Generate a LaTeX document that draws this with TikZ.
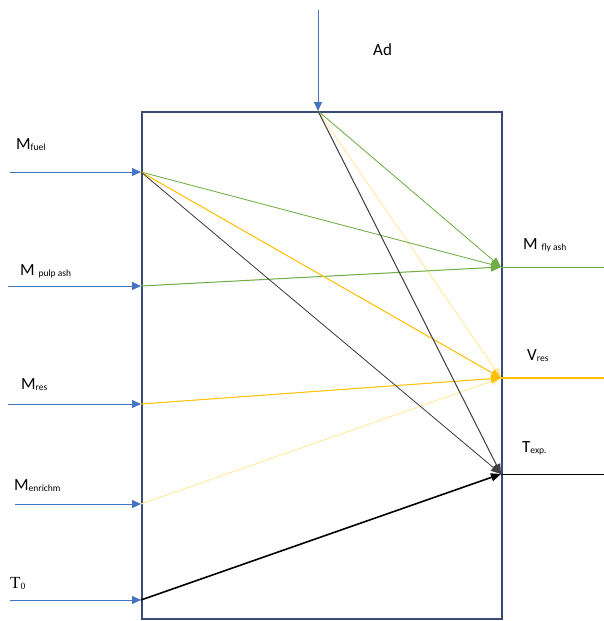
\documentclass[tikz,border=0pt]{standalone}
\usepackage{fontspec}
\setmainfont{Carlito}
\newfontfamily\serifT{Liberation Serif}
\usetikzlibrary{arrows.meta}
\definecolor{inblue}{HTML}{4472C4}
\definecolor{flgreen}{HTML}{70AD47}
\definecolor{flgold}{HTML}{FFC000}
\definecolor{flpale}{HTML}{FFE699}
\definecolor{boxblue}{HTML}{3A4C74}
\definecolor{dkgray}{HTML}{404040}
\newcommand\sbx[1]{\raisebox{-1.5pt}{\fontsize{9.5}{9.5}\selectfont #1}}
\tikzset{
  inarrow/.style={draw=inblue, line width=0.8pt, -{Triangle[length=9pt,width=8pt]}},
  flow/.style={line width=0.8pt, -{Triangle[length=10pt,width=8pt]}},
  outline/.style={line width=0.9pt},
  lbl/.style={anchor=base west, inner sep=0pt, font=\fontsize{17}{17}\selectfont},
  boxline/.style={draw=boxblue, line width=1.5pt}
}
\begin{document}
\begin{tikzpicture}[x=1pt,y=-1pt]
\useasboundingbox (0,0) rectangle (604,621);
% box
\draw[boxline] (142,112) rectangle (502,619);
% coordinates
\coordinate (fuelS) at (10,172);  \coordinate (fuel) at (141,172);
\coordinate (pulpS) at (8,286);   \coordinate (pulp) at (141,286);
\coordinate (resS) at (8,404);    \coordinate (res) at (141,404);
\coordinate (enrS) at (15,504);   \coordinate (enr) at (141,504);
\coordinate (tzS) at (10,600);    \coordinate (tz) at (141,600);
\coordinate (adS) at (318,10);    \coordinate (ad) at (318,111);
\coordinate (fly) at (501,267);   \coordinate (flyE) at (604,267);
\coordinate (vres) at (501,378);  \coordinate (vresE) at (604,378);
\coordinate (texp) at (501,474);  \coordinate (texpE) at (604,474);
% input arrows
\draw[inarrow] (fuelS) -- (fuel);
\draw[inarrow] (pulpS) -- (pulp);
\draw[inarrow] (resS) -- (res);
\draw[inarrow] (enrS) -- (enr);
\draw[inarrow] (tzS) -- (tz);
\draw[inarrow] (adS) -- (ad);
% internal flows
\draw[flow, draw=flpale, fill=flpale] (ad) -- (vres);
\draw[flow, draw=flpale, fill=flpale] (enr) -- (vres);
\draw[flow, draw=flgreen, fill=flgreen] (fuel) -- (fly);
\draw[flow, draw=flgreen, fill=flgreen] (ad) -- (fly);
\draw[flow, draw=flgreen, fill=flgreen, line width=1pt] (pulp) -- (fly);
\draw[flow, draw=flgold, fill=flgold, line width=1pt] (fuel) -- (vres);
\draw[flow, draw=flgold, fill=flgold, line width=1pt] (res) -- (vres);
\draw[flow, draw=dkgray, fill=dkgray] (fuel) -- (texp);
\draw[flow, draw=dkgray, fill=dkgray, line width=1pt] (ad) -- (texp);
\draw[flow, draw=black, fill=black, line width=1.6pt] (tz) -- (texp);
% outputs
\draw[outline, draw=flgreen] (fly) -- (flyE);
\draw[outline, draw=flgold, line width=1.2pt] (vres) -- (vresE);
\draw[outline, draw=black] (texp) -- (texpE);
% labels
\node[lbl] (lfuel) at (16,149) {M\sbx{fuel}};
\node[lbl] (lpulp) at (20,275) {M \sbx{pulp ash}};
\node[lbl] (lres) at (21,389) {M\sbx{res}};
\node[lbl] (lenr) at (14,490) {M\sbx{enrichm}};
\node[lbl] (ltz) at (10,588) {\serifT T\sbx{0}};
\node[lbl] (lad) at (373,55) {Ad};
\node[lbl] (lfly) at (523,249) {M \sbx{fly ash}};
\node[lbl] (lvres) at (527,360) {V\sbx{res}};
\node[lbl] (ltexp) at (522,452) {T\sbx{exp.}};
\end{tikzpicture}
\end{document}
